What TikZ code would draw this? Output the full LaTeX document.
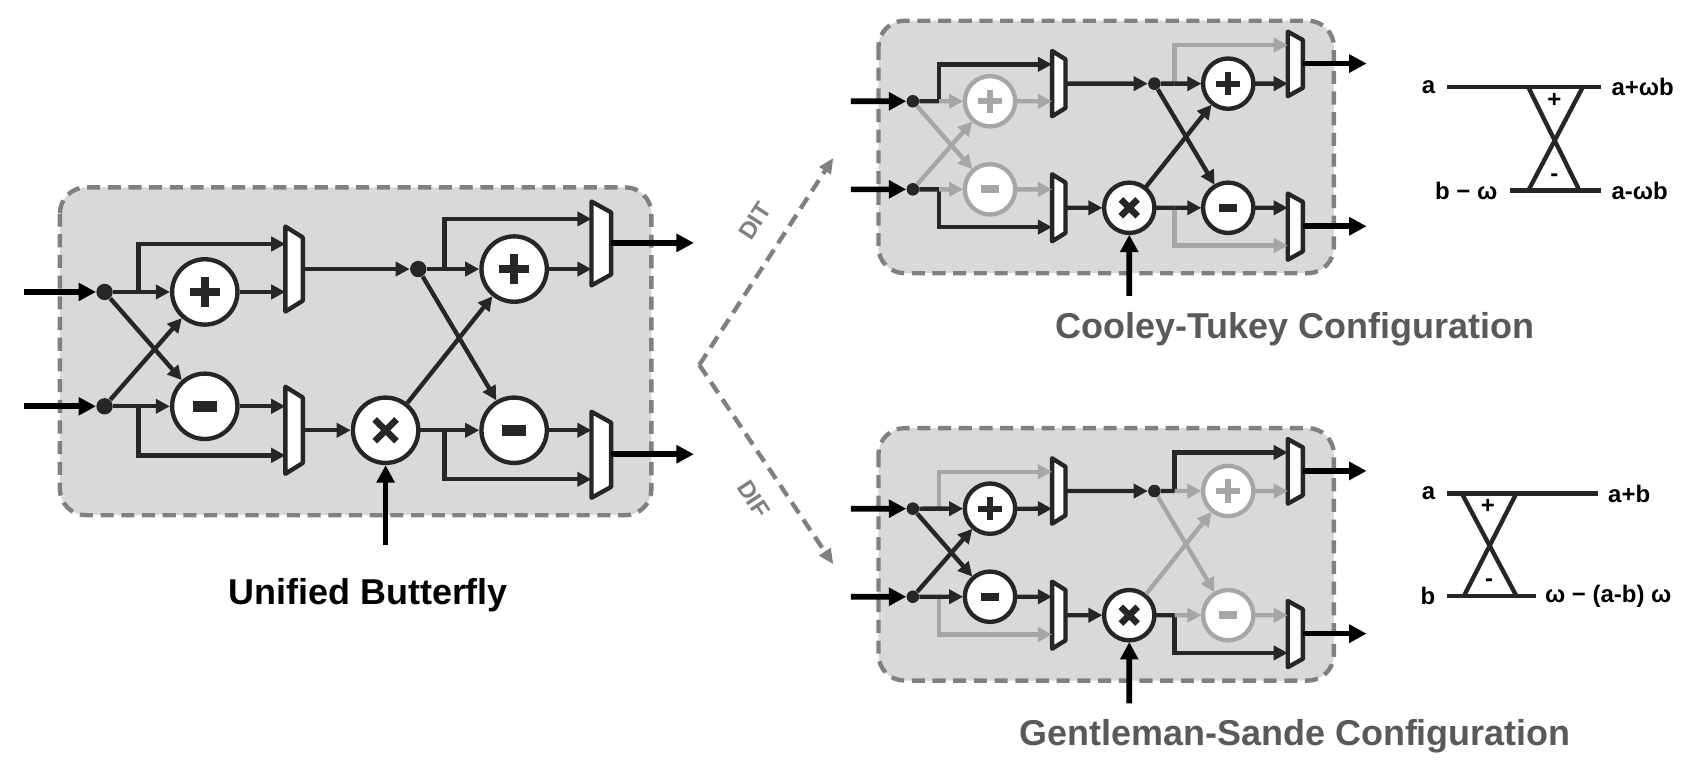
\documentclass[tikz,border=0pt]{standalone}
\usepackage{fontspec}
\setmainfont{Liberation Sans}
\usetikzlibrary{arrows.meta}

\definecolor{ink}{HTML}{262626}
\definecolor{dim}{HTML}{A6A6A6}
\definecolor{boxfill}{HTML}{D9D9D9}
\definecolor{boxline}{HTML}{808080}
\definecolor{caption}{HTML}{595959}

\tikzset{
  line/.style={line width=2pt, ink},
  wire/.style={line width=2pt, -{Triangle[length=6.5pt,width=6.5pt]}},
  feed/.style={line width=2.6pt, black, -{Triangle[length=8pt,width=8pt]}},
  unitbox/.style={fill=boxfill, draw=boxline, line width=2pt,
    dash pattern=on 6pt off 3.5pt, rounded corners=12pt},
  mux/.style={fill=white, draw=ink, line width=2pt, line join=round},
  dot/.style={circle, fill=ink, inner sep=0pt, minimum size=7.5pt},
  op/.style={circle, draw=#1, fill=white, line width=2pt, minimum size=30pt, inner sep=0pt},
  add/.style={op=#1, path picture={
    \fill[#1] ([shift={(-7pt,-1.8pt)}]path picture bounding box.center) rectangle ++(14pt,3.6pt);
    \fill[#1] ([shift={(-1.8pt,-7pt)}]path picture bounding box.center) rectangle ++(3.6pt,14pt);}},
  sub/.style={op=#1, path picture={
    \fill[#1] ([shift={(-5.5pt,-2.4pt)}]path picture bounding box.center) rectangle ++(11pt,4.8pt);}},
  mul/.style={op=ink, path picture={
    \draw[ink, line width=3pt] ([shift={(-5pt,-5pt)}]path picture bounding box.center) -- ++(10pt,10pt);
    \draw[ink, line width=3pt] ([shift={(-5pt,5pt)}]path picture bounding box.center) -- ++(10pt,-10pt);}},
  note/.style={font=\bfseries\fontsize{11}{13}\selectfont, inner sep=1pt},
  title/.style={font=\bfseries\fontsize{16.5}{20}\selectfont},
  path/.style={boxline, line width=2pt, dash pattern=on 6pt off 3.5pt,
    -{Triangle[length=7pt,width=6pt]}},
}

% #1 prefix, #2 stage-1 op colour, #3 stage-1 bypass colour,
% #4 stage-2 op colour, #5 stage-2 bypass colour
\newcommand\bfly[5]{%
  \draw[unitbox] (55,172) rectangle (598,473);
  % muxes
  \draw[mux] (262,208) -- (278,218) -- (278,276) -- (262,286) -- cycle;
  \draw[mux] (262,355) -- (278,365) -- (278,425) -- (262,435) -- cycle;
  \draw[mux] (543,185) -- (561,195) -- (561,252) -- (543,262) -- cycle;
  \draw[mux] (543,378) -- (561,388) -- (561,447) -- (543,457) -- cycle;
  \coordinate (#1-m1a) at (262,224); \coordinate (#1-m1b) at (262,268); \coordinate (#1-m1o) at (278,247);
  \coordinate (#1-m2a) at (262,373); \coordinate (#1-m2b) at (262,418); \coordinate (#1-m2o) at (278,395);
  \coordinate (#1-m3a) at (543,201); \coordinate (#1-m3b) at (543,247); \coordinate (#1-m3o) at (561,223);
  \coordinate (#1-m4a) at (543,395); \coordinate (#1-m4b) at (543,440); \coordinate (#1-m4o) at (561,417);
  % nodes
  \node[dot] (#1-d1) at (96,268) {};
  \node[dot] (#1-d2) at (96,373) {};
  \node[add=#2] (#1-add1) at (188,268) {};
  \node[sub=#2] (#1-sub1) at (188,373) {};
  \node[mul] (#1-mul) at (354,395) {};
  \node[dot] (#1-d3) at (384,247) {};
  \node[add=#4] (#1-add2) at (472,247) {};
  \node[sub=#4] (#1-sub2) at (472,395) {};
  \coordinate (#1-j1) at (127,268); \coordinate (#1-j2) at (127,373);
  \coordinate (#1-j3) at (408,247); \coordinate (#1-j4) at (408,395);
  \coordinate (#1-i1) at (22,268); \coordinate (#1-i2) at (22,373);
  \coordinate (#1-w) at (354,500);
  \coordinate (#1-o1) at (637,223); \coordinate (#1-o2) at (637,417);
  % stage 1
  \draw[feed] (#1-i1) -- (#1-d1);
  \draw[feed] (#1-i2) -- (#1-d2);
  \draw[wire,#3] (#1-j1) |- (#1-m1a);
  \draw[wire,#3] (#1-j2) |- (#1-m2b);
  \draw[wire,#2] (#1-j1) -- (#1-add1);
  \draw[wire,#2] (#1-j2) -- (#1-sub1);
  \draw[wire,#2] (#1-d2) -- (#1-add1);
  \draw[wire,#2] (#1-d1) -- (#1-sub1);
  \draw[wire,#2] (#1-add1) -- (#1-m1b);
  \draw[wire,#2] (#1-sub1) -- (#1-m2a);
  \draw[line] (#1-d1) -- (#1-j1);
  \draw[line] (#1-d2) -- (#1-j2);
  \draw[wire,ink] (#1-m1o) -- (#1-d3);
  \draw[wire,ink] (#1-m2o) -- (#1-mul);
  \draw[feed] (#1-w) -- (#1-mul);
  % stage 2
  \draw[wire,#5] (#1-j3) |- (#1-m3a);
  \draw[wire,#5] (#1-j4) |- (#1-m4b);
  \draw[wire,#4] (#1-j3) -- (#1-add2);
  \draw[wire,#4] (#1-j4) -- (#1-sub2);
  \draw[wire,#4] (#1-d3) -- (#1-sub2);
  \draw[wire,#4] (#1-mul) -- (#1-add2);
  \draw[wire,#4] (#1-add2) -- (#1-m3b);
  \draw[wire,#4] (#1-sub2) -- (#1-m4a);
  \draw[line] (#1-d3) -- (#1-j3);
  \draw[line] (#1-mul) -- (#1-j4);
  \draw[feed] (#1-m3o) -- (#1-o1);
  \draw[feed] (#1-m4o) -- (#1-o2);
}

\begin{document}
\begin{tikzpicture}[x=0.5pt,y=-0.5pt]
\useasboundingbox (0,0) rectangle (1568,707);

% unified butterfly
\bfly{ub}{ink}{ink}{ink}{ink}
\node[title] (ubname) at (338,546) {Unified Butterfly};

% configurations
\begin{scope}[shift={(764.1,-113.4)}, scale=0.77, transform shape]
  \bfly{ct}{dim}{ink}{ink}{dim}
\end{scope}
\begin{scope}[shift={(764.1,260.6)}, scale=0.77, transform shape]
  \bfly{gs}{ink}{dim}{dim}{ink}
\end{scope}
\node[title, text=caption] (ctname) at (1189,302) {Cooley-Tukey Configuration};
\node[title, text=caption] (gsname) at (1189,676) {Gentleman-Sande Configuration};

% DIT / DIF
\coordinate (fork) at (642,335);
\coordinate (ditend) at (765,145);
\coordinate (difend) at (765,518);
\draw[path] (fork) -- (ditend);
\draw[path] (fork) -- (difend);
\node[font=\bfseries\fontsize{11}{13}\selectfont, text=boxline, rotate=57] (dit) at (693,203) {DIT};
\node[font=\bfseries\fontsize{11}{13}\selectfont, text=boxline, rotate=-57] (dif) at (692,458) {DIF};

% CT butterfly notation
\node[note, anchor=east] (cta) at (1320,80) {a};
\node[note, anchor=east] (ctb) at (1377,175) {b − ω};
\node[note, anchor=west] (ctp) at (1477,80) {a+ωb};
\node[note, anchor=west] (ctm) at (1477,175) {a-ωb};
\draw[line, line width=2pt] (1328,80) -- (1470,80);
\draw[line, line width=2pt] (1386,175) -- (1470,175);
\draw[line, line width=2pt] (1403,80) -- (1450,175);
\draw[line, line width=2pt] (1453,80) -- (1403,175);
\node[note] (ctplus) at (1427,92) {+};
\node[note] (ctminus) at (1427,163) {-};

% GS butterfly notation
\node[note, anchor=east] (gsa) at (1320,453) {a};
\node[note, anchor=east] (gsb) at (1320,547) {b};
\node[note, anchor=west] (gsp) at (1474,453) {a+b};
\node[note, anchor=west] (gsm) at (1416,547) {ω − (a-b) ω};
\draw[line, line width=2pt] (1328,453) -- (1467,453);
\draw[line, line width=2pt] (1328,547) -- (1410,547);
\draw[line, line width=2pt] (1342,453) -- (1392,547);
\draw[line, line width=2pt] (1392,453) -- (1344,547);
\node[note] (gsplus) at (1366,465) {+};
\node[note] (gsminus) at (1367,535) {-};
\end{tikzpicture}
\end{document}
